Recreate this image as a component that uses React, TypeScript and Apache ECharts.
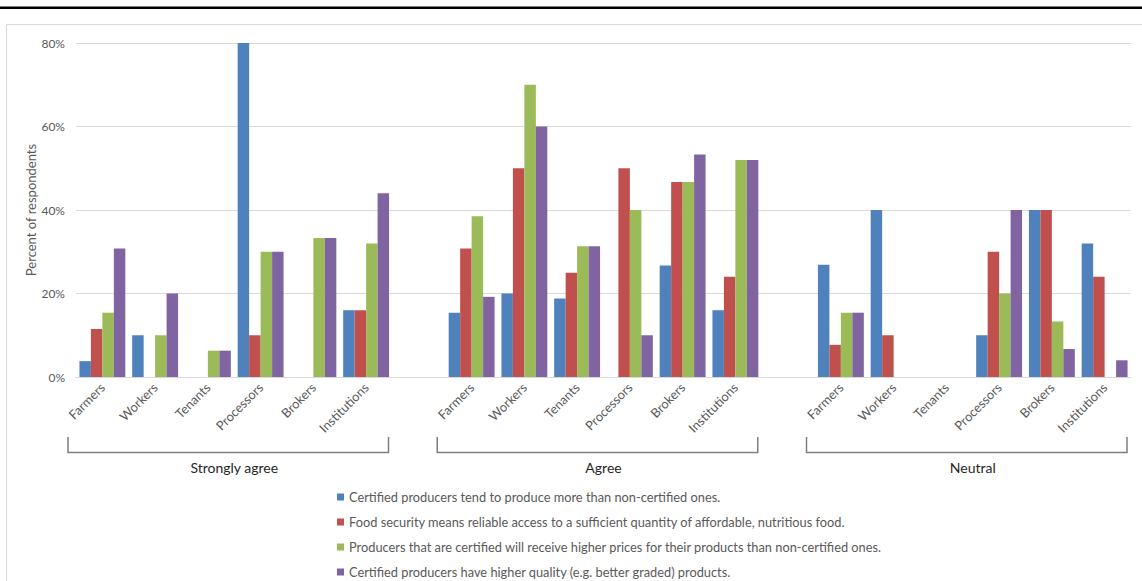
import React, { useEffect, useRef } from "react";
import * as echarts from "echarts";

const categories = ["Farmers", "Workers", "Tenants", "Processors", "Brokers", "Institutions"];
const groups = ["Strongly agree", "Agree", "Neutral"];
const seriesNames = [
  "Certified producers tend to produce more than non-certified ones.",
  "Food security means reliable access to a sufficient quantity of affordable, nutritious food.",
  "Producers that are certified will receive higher prices for their products than non-certified ones.",
  "Certified producers have higher quality (e.g. better graded) products.",
];
const colors = ["#4F81BD", "#C0504D", "#9BBB59", "#8064A2"];
const yTicks = [0, 20, 40, 60, 80];

// values in % per group (Strongly agree, Agree, Neutral)
const produceMore = [
  [3.8, 10, 0, 80, 0, 16],
  [15.4, 20, 18.8, 0, 26.7, 16],
  [26.9, 40, 0, 10, 40, 32],
];
const foodSecurity = [
  [11.5, 0, 0, 10, 0, 16],
  [30.8, 50, 25, 50, 46.7, 24],
  [7.7, 10, 0, 30, 40, 24],
];
const higherPrices = [
  [15.4, 10, 6.3, 30, 33.3, 32],
  [38.5, 70, 31.3, 40, 46.7, 52],
  [15.4, 0, 0, 20, 13.3, 0],
];
const higherQuality = [
  [30.8, 20, 6.3, 30, 33.3, 44],
  [19.2, 60, 31.3, 10, 53.3, 52],
  [15.4, 0, 0, 40, 6.7, 4],
];

const FONT = "Lato";

export default function App() {
  const ref = useRef<HTMLDivElement>(null);
  useEffect(() => {
    document.body.style.margin = "0";
    const chart = echarts.init(ref.current!, null, { renderer: "svg" });

    // 20 slots: 6 + spacer + 6 + spacer + 6
    const xCats: string[] = [];
    const groupStart: number[] = [];
    groups.forEach((g, gi) => {
      groupStart.push(xCats.length);
      categories.forEach((c) => xCats.push(c));
      if (gi < groups.length - 1) xCats.push("");
    });
    const build = (arr: number[][]) => {
      const out: (number | null)[] = [];
      arr.forEach((vals, gi) => {
        vals.forEach((v) => out.push(v === 0 ? null : v));
        if (gi < arr.length - 1) out.push(null);
      });
      return out;
    };
    const all = [produceMore, foodSecurity, higherPrices, higherQuality];

    const legends = seriesNames.map((n, i) => ({
      orient: "vertical",
      left: 332,
      top: 485 + i * 25,
      icon: "rect",
      itemWidth: 7,
      itemHeight: 7,
      textStyle: { fontFamily: FONT, fontSize: 12.8, color: "#595959", lineHeight: 14 },
      data: [n],
    }));

    const option: any = {
      animation: false,
      textStyle: { fontFamily: FONT },
      grid: { left: 76, right: 11, top: 43, bottom: 204 },
      legend: legends,
      xAxis: {
        type: "category",
        data: xCats,
        axisLine: { lineStyle: { color: "#d9d9d9" } },
        axisTick: { show: false },
        axisLabel: {
          interval: 0,
          rotate: 45,
          margin: 8,
          fontFamily: FONT,
          fontSize: 12.8,
          color: "#595959",
        },
      },
      yAxis: {
        type: "value",
        min: 0,
        max: 80,
        interval: 20,
        name: "Percent of respondents",
        nameLocation: "middle",
        nameRotate: 90,
        nameGap: 38.5,
        nameMoveOverlap: false,
        nameTextStyle: { fontFamily: FONT, fontSize: 13, color: "#595959" },
        axisLabel: {
          formatter: (v: number) => (yTicks.includes(v) ? v + "%" : ""),
          fontFamily: FONT,
          fontSize: 12,
          color: "#595959",
          margin: 11,
        },
        splitLine: { lineStyle: { color: "#d9d9d9" } },
        axisLine: { show: false },
        axisTick: { show: false },
      },
      series: all.map((arr, i) => ({
        name: seriesNames[i],
        type: "bar",
        data: build(arr),
        barGap: "0%",
        barCategoryGap: "13%",
        itemStyle: { color: colors[i] },
      })),
    };
    chart.setOption(option);

    const slotW = 1055 / xCats.length;
    const graphics: any[] = [
      { type: "rect", shape: { x: 0, y: 6.5, width: 1142, height: 2.5 }, style: { fill: "#000" }, silent: true },
      {
        type: "rect",
        shape: { x: 6.5, y: 24.5, width: 1200, height: 700 },
        style: { fill: "none", stroke: "#d9d9d9", lineWidth: 1 },
        silent: true,
        z: -1,
      },
    ];
    groups.forEach((g, gi) => {
      const s = groupStart[gi];
      const c0 = chart.convertToPixel({ xAxisIndex: 0 }, s) as number;
      const c5 = chart.convertToPixel({ xAxisIndex: 0 }, s + 5) as number;
      const L = c0 - slotW / 2 - 8;
      const R = c5 + slotW / 2 - 4;
      graphics.push({
        type: "polyline",
        shape: { points: [[L, 437], [L, 452.5], [R, 452.5], [R, 437]] },
        style: { stroke: "#7f7f7f", lineWidth: 1.5, fill: "none" },
        silent: true,
      });
      graphics.push({
        type: "text",
        x: (L + R) / 2 + 6,
        y: 467,
        style: {
          text: g,
          fontFamily: FONT,
          fontSize: 14,
          fill: "#262626",
          textAlign: "center",
          textVerticalAlign: "middle",
        },
        silent: true,
      });
    });
    chart.setOption({ graphic: graphics });

    return () => chart.dispose();
  }, []);
  return <div ref={ref} style={{ width: 1142, height: 581 }} />;
}
